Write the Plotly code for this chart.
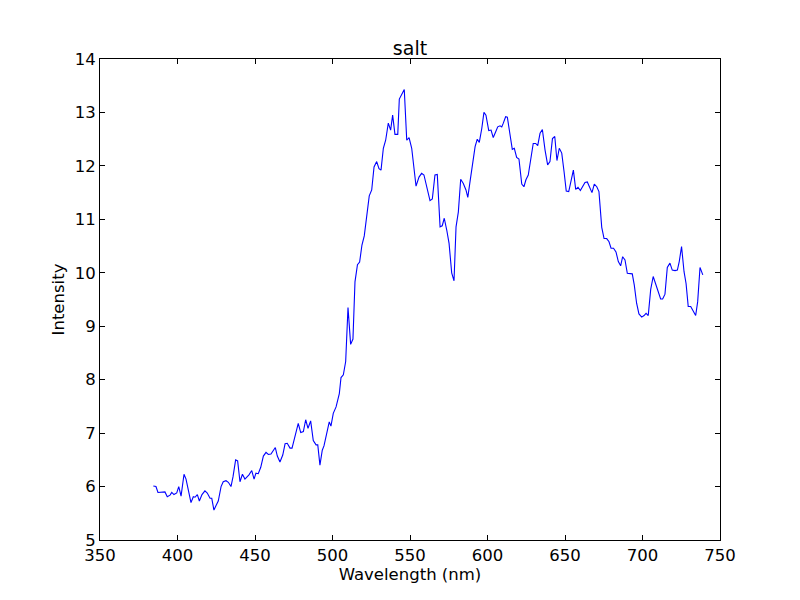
import plotly.graph_objects as go

wavelength = [384.4, 386.1, 387.4, 389.8, 391.9, 393.4, 395.2, 396.3, 397.7, 399.5,
              400.8, 402.3, 404.2, 405.5, 407.0, 408.7, 410.2, 411.3, 412.8, 414.1,
              415.8, 417.7, 419.2, 421.0, 422.1, 423.5, 424.8, 426.3, 428.1, 429.5,
              431.3, 432.8, 434.5, 435.8, 437.5, 438.8, 440.3, 441.9, 443.5, 446.1,
              447.9, 449.4, 450.6, 452.1, 453.7, 455.4, 457.1, 458.6, 460.3, 462.3,
              463.1, 464.4, 466.1, 467.9, 469.4, 470.8, 472.6, 473.9, 475.8, 477.9,
              479.5, 481.2, 482.7, 484.2, 485.9, 487.6, 489.4, 490.5, 491.9, 493.4,
              494.5, 496.3, 497.9, 499.0, 500.5, 502.3, 503.4, 504.4, 505.5, 507.0,
              508.5, 510.0, 511.7, 513.2, 514.5, 516.1, 517.5, 519.0, 520.5, 522.4,
              523.7, 525.3, 526.8, 528.5, 530.0, 531.3, 532.8, 534.3, 536.0, 537.5,
              538.8, 540.3, 542.1, 543.1, 546.3, 547.9, 549.4, 551.1, 552.1, 553.9,
              555.8, 557.5, 559.0, 560.8, 562.9, 564.4, 566.1, 567.6, 569.4, 570.8,
              572.1, 573.7, 575.2, 576.9, 578.4, 579.7, 581.2, 582.7, 584.4, 586.1,
              587.3, 588.7, 590.5, 592.0, 593.4, 594.7, 596.3, 597.7, 599.0, 600.8,
              602.3, 603.7, 605.3, 606.6, 608.1, 609.2, 610.2, 611.7, 612.8, 614.5,
              616.0, 617.3, 618.8, 620.3, 622.1, 623.5, 624.8, 626.3, 627.9, 629.5,
              631.1, 632.4, 633.9, 635.4, 637.1, 638.8, 640.3, 641.9, 643.4, 644.8,
              646.3, 647.9, 649.4, 650.8, 652.4, 653.9, 655.4, 656.9, 658.4, 659.9,
              661.4, 662.9, 664.4, 665.9, 667.4, 668.9, 670.5, 671.9, 673.7, 675.2,
              676.9, 678.4, 679.7, 681.3, 682.9, 684.4, 685.9, 687.2, 688.7, 690.2,
              691.9, 693.4, 694.7, 696.2, 697.7, 699.5, 701.0, 702.3, 703.7, 705.3,
              706.9, 708.5, 710.2, 711.7, 713.0, 714.5, 716.0, 717.7, 719.2, 721.0,
              722.5, 723.7, 725.2, 726.8, 728.1, 729.5, 731.1, 732.8, 734.3, 735.6,
              737.1, 738.9]

intensity = [6.01, 6.00, 5.89, 5.90, 5.90, 5.81, 5.84, 5.89, 5.85, 5.88,
             6.00, 5.82, 6.23, 6.14, 5.90, 5.70, 5.81, 5.80, 5.85, 5.73,
             5.85, 5.92, 5.88, 5.78, 5.78, 5.56, 5.64, 5.73, 6.00, 6.09,
             6.11, 6.08, 6.00, 6.18, 6.50, 6.48, 6.09, 6.23, 6.14, 6.22,
             6.30, 6.14, 6.25, 6.24, 6.36, 6.57, 6.64, 6.60, 6.61, 6.68,
             6.73, 6.57, 6.46, 6.59, 6.80, 6.81, 6.72, 6.72, 6.96, 7.18,
             7.01, 7.03, 7.25, 7.09, 7.23, 6.86, 6.78, 6.78, 6.40, 6.68,
             6.76, 7.00, 7.21, 7.13, 7.37, 7.49, 7.62, 7.74, 8.04, 8.09,
             8.34, 9.35, 8.66, 8.76, 9.83, 10.15, 10.20, 10.52, 10.69, 11.21,
             11.44, 11.55, 11.98, 12.08, 11.95, 11.92, 12.33, 12.48, 12.80, 12.67,
             12.95, 12.59, 12.59, 13.25, 13.43, 12.48, 12.53, 12.33, 12.11, 11.62,
             11.79, 11.86, 11.83, 11.62, 11.35, 11.38, 11.83, 11.84, 10.86, 10.88,
             11.02, 10.80, 10.55, 10.00, 9.85, 10.86, 11.14, 11.75, 11.67, 11.55,
             11.41, 11.70, 12.05, 12.36, 12.50, 12.44, 12.70, 13.00, 12.95, 12.66,
             12.67, 12.53, 12.64, 12.73, 12.75, 12.73, 12.80, 12.92, 12.91, 12.61,
             12.31, 12.33, 12.16, 12.13, 11.66, 11.61, 11.74, 11.83, 12.11, 12.42,
             12.42, 12.38, 12.61, 12.68, 12.30, 12.02, 12.08, 12.51, 12.55, 12.10,
             12.33, 12.24, 11.89, 11.53, 11.52, 11.74, 11.92, 11.56, 11.60, 11.54,
             11.62, 11.69, 11.70, 11.61, 11.50, 11.66, 11.61, 11.52, 10.85, 10.64,
             10.64, 10.58, 10.46, 10.46, 10.39, 10.21, 10.13, 10.30, 10.24, 9.99,
             9.99, 9.98, 9.77, 9.43, 9.23, 9.17, 9.20, 9.24, 9.20, 9.69,
             9.93, 9.80, 9.62, 9.51, 9.51, 9.60, 10.10, 10.18, 10.05, 10.04,
             10.05, 10.21, 10.49, 10.02, 9.80, 9.37, 9.37, 9.28, 9.20, 9.46,
             10.10, 9.96]

title_text = "salt"
x_label = "Wavelength (nm)"
y_label = "Intensity"

font_family = "DejaVu Sans"
body_offset = 8  # default page margin of the HTML body

fig = go.Figure()
fig.add_trace(go.Scatter(
    x=wavelength, y=intensity, mode="lines",
    line=dict(color="#0000ff", width=1.1),
    showlegend=False, hoverinfo="skip",
))

axis_common = dict(
    showline=True, linecolor="black", linewidth=1, mirror="ticks",
    ticks="inside", ticklen=5, tickwidth=1, tickcolor="black",
    showgrid=False, zeroline=False,
    tickfont=dict(family=font_family, size=16.5, color="black"),
)

fig.update_layout(
    width=800, height=600,
    margin=dict(l=100 - body_offset, r=80 + body_offset,
                t=59 - body_offset, b=60 + body_offset, pad=0, autoexpand=False),
    paper_bgcolor="white", plot_bgcolor="white",
    font=dict(family=font_family, color="black"),
    title=dict(text=title_text, x=0.5, xref="paper", xanchor="center",
               y=1 - (55 - body_offset) / 600, yref="container", yanchor="bottom",
               font=dict(family=font_family, size=19, color="black")),
    xaxis=dict(range=[350, 750], dtick=50, tick0=350,
               title=dict(text=x_label, standoff=3,
                          font=dict(family=font_family, size=16.5, color="black")),
               **axis_common),
    yaxis=dict(range=[5, 14], dtick=1, tick0=5,
               title=dict(text=y_label, standoff=5,
                          font=dict(family=font_family, size=16.5, color="black")),
               **axis_common),
)

fig.write_html("out.html")
